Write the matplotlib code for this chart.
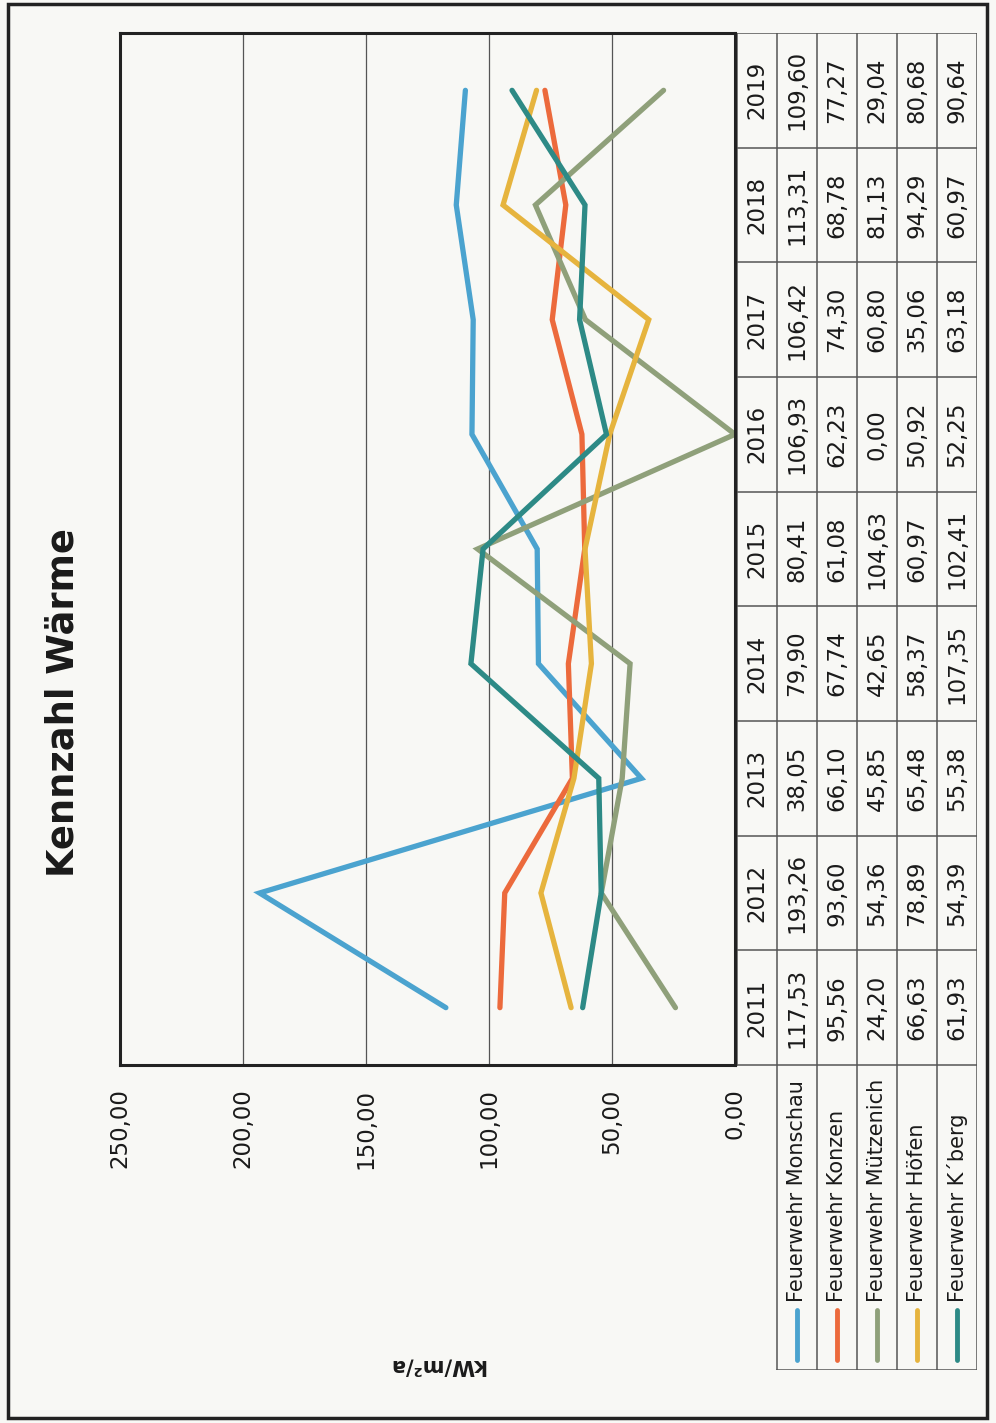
import matplotlib
matplotlib.use("Agg")
import matplotlib.pyplot as plt
from matplotlib.patches import Rectangle

# =========================
# DATA
# =========================
years = ["2011", "2012", "2013", "2014", "2015", "2016", "2017", "2018", "2019"]
series_names = ["Feuerwehr Monschau", "Feuerwehr Konzen", "Feuerwehr Mützenich",
                "Feuerwehr Höfen", "Feuerwehr K´berg"]
monschau = [117.53, 193.26, 38.05, 79.90, 80.41, 106.93, 106.42, 113.31, 109.60]
konzen = [95.56, 93.60, 66.10, 67.74, 61.08, 62.23, 74.30, 68.78, 77.27]
muetzenich = [24.20, 54.36, 45.85, 42.65, 104.63, 0.00, 60.80, 81.13, 29.04]
hoefen = [66.63, 78.89, 65.48, 58.37, 60.97, 50.92, 35.06, 94.29, 80.68]
kberg = [61.93, 54.39, 55.38, 107.35, 102.41, 52.25, 63.18, 60.97, 90.64]
value_ticks = [0, 50, 100, 150, 200, 250]

all_series = [monschau, konzen, muetzenich, hoefen, kberg]
colors = ["#4ba3cf", "#ec6a3c", "#8fa07a", "#e6b43e", "#2d8a86"]

plt.rcParams["font.family"] = ["DejaVu Sans"]

W, H = 996, 1423
fig = plt.figure(figsize=(W / 100, H / 100), dpi=100)
fig.patch.set_facecolor("#f8f8f5")


def box(x0, y0, x1, y1):
    # pixel box (top-left origin) -> figure fraction rect
    return [x0 / W, 1 - y1 / H, (x1 - x0) / W, (y1 - y0) / H]


# outer page frame
fig.patches.append(Rectangle((8 / W, 1 - 1418 / H), 979 / W, 1414 / H,
                             transform=fig.transFigure, fill=False,
                             edgecolor="#222222", linewidth=2.5))

# =========================
# CHART (drawn turned by 90 degrees)
# =========================
ax = fig.add_axes(box(120, 33, 735, 1065))
ax.set_facecolor("none")
pos = list(range(len(years)))
for vals, col in zip(all_series, colors):
    ax.plot(vals, pos, color=col, linewidth=3.8, solid_capstyle="round",
            solid_joinstyle="miter")

ax.set_xlim(250, 0)
ax.set_ylim(-0.5, len(years) - 0.5)
ax.set_xticks(value_ticks)
ax.set_xticklabels([f"{v:.2f}".replace(".", ",") for v in value_ticks],
                   rotation=90, fontsize=16.5, color="#1a1a1a")
ax.tick_params(axis="x", length=0, pad=17)
ax.set_yticks([])
for v in value_ticks[1:-1]:
    ax.axvline(v, color="#555555", linewidth=0.9, zorder=0)
for s in ax.spines.values():
    s.set_linewidth(2.2)
    s.set_color("#222222")

fig.text(63 / W, 1 - 703 / H, "Kennzahl Wärme", rotation=90, fontsize=26.5,
         fontweight="bold", ha="center", va="center", color="#1a1a1a")
fig.text(437 / W, 1 - 1366 / H, "kW/m²/a", rotation=180, fontsize=15,
         fontweight="bold", ha="center", va="center", color="#1a1a1a")

# =========================
# DATA TABLE
# =========================
band = 1032 / len(years)
legend_len = (1370 - 1065) / band
tx = fig.add_axes(box(737, 33, 977, 1370))
tx.set_xlim(0, len(all_series) + 1)
tx.set_ylim(-0.5 - legend_len, len(years) - 0.5)
tx.axis("off")

ncol = len(all_series) + 1
lc = "#555555"
# horizontal (year) borders
for k in range(len(years) + 1):
    tx.plot([0, ncol], [k - 0.5, k - 0.5], color=lc, lw=1.1)
tx.plot([1, ncol], [-0.5 - legend_len] * 2, color=lc, lw=1.1)
# column borders
tx.plot([0, 0], [-0.5, len(years) - 0.5], color=lc, lw=1.1)
for c in range(1, ncol + 1):
    tx.plot([c, c], [-0.5 - legend_len, len(years) - 0.5], color=lc, lw=1.1)

for i, yr in enumerate(years):
    tx.text(0.5, i, yr, rotation=90, ha="center", va="center", fontsize=16.5,
            color="#1a1a1a")
    for j, vals in enumerate(all_series):
        tx.text(j + 1.5, i, f"{vals[i]:.2f}".replace(".", ","), rotation=90,
                ha="center", va="center", fontsize=16.5, color="#1a1a1a")

key_top = -0.5 - (1310 - 1065) / band
key_bot = -0.5 - (1360 - 1065) / band
text_start = -0.5 - (1302 - 1065) / band
for j, (name, col) in enumerate(zip(series_names, colors)):
    tx.plot([j + 1.5, j + 1.5], [key_bot, key_top], color=col, lw=3.5,
            solid_capstyle="round")
    tx.text(j + 1.5, text_start, name, rotation=90, ha="center",
            va="bottom", fontsize=15, color="#1a1a1a")

fig.savefig("out.png", dpi=100, facecolor=fig.get_facecolor())
